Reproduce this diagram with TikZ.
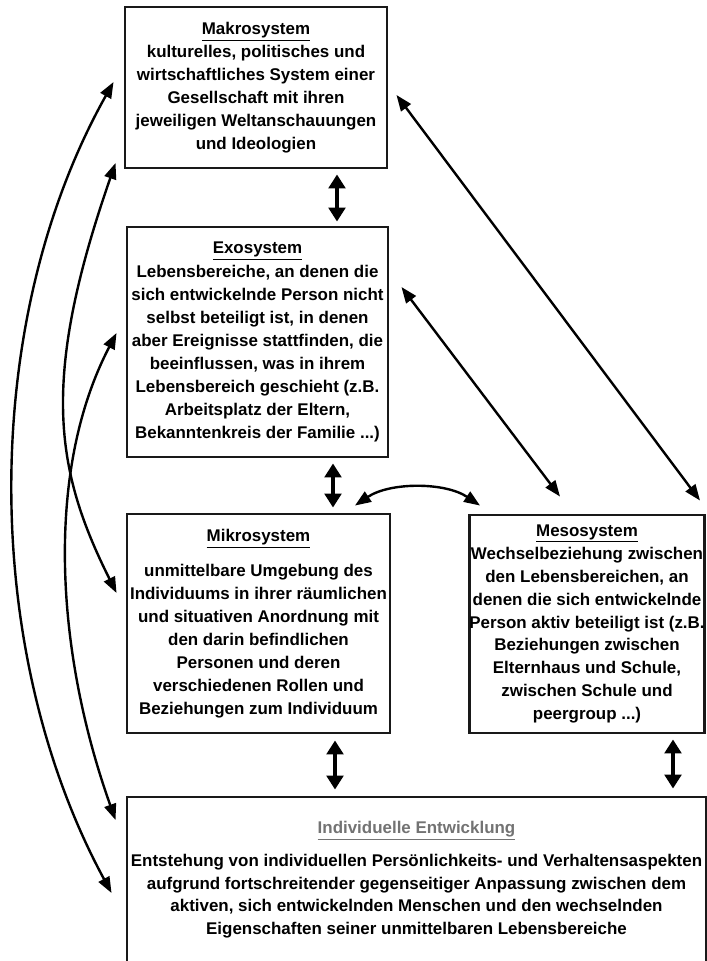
\documentclass[tikz,border=0pt]{standalone}
\usepackage{fontspec}
\setmainfont{Liberation Sans}
\usetikzlibrary{arrows.meta,calc}
\tikzset{
  sysbox/.style={draw=black!90, line width=2.2pt, fill=white, inner sep=0pt, align=center,
    font=\bfseries\fontsize{12.7}{17.2}\selectfont},
  linkarrow/.style={line width=1.8pt, {Triangle[length=12pt,width=9pt]}-{Triangle[length=12pt,width=9pt]}},
  bigarrow/.style={line width=3pt, {Triangle[length=10.5pt,width=12.5pt]}-{Triangle[length=10.5pt,width=12.5pt]}}
}
\begin{document}
\begin{tikzpicture}[x=0.75pt,y=-0.75pt]
\useasboundingbox (0,0) rectangle (707,961);
\clip (0,0) rectangle (707,961);
\fill[white] (0,0) rectangle (707,961);

\node[sysbox, minimum width=196.5pt, minimum height=120.75pt] (makro) at (256,87.5)
  {\underline{Makrosystem}\\
   kulturelles, politisches und\\
   wirtschaftliches System einer\\
   Gesellschaft mit ihren\\
   jeweiligen Weltanschauungen\\
   und Ideologien};

\node[sysbox, minimum width=195.75pt, minimum height=172.5pt] (exo) at (257.5,342)
  {\underline{Exosystem}\\[1pt]
   Lebensbereiche, an denen die\\
   sich entwickelnde Person nicht\\
   selbst beteiligt ist, in denen\\
   aber Ereignisse stattfinden, die\\
   beeinflussen, was in ihrem\\
   Lebensbereich geschieht (z.B.\\
   Arbeitsplatz der Eltern,\\
   Bekanntenkreis der Familie ...)};

\node[sysbox, minimum width=197.25pt, minimum height=164.25pt] (mikro) at (258.5,623.5)
  {\underline{Mikrosystem}\\[9pt]
   unmittelbare Umgebung des\\
   Individuums in ihrer räumlichen\\
   und situativen Anordnung mit\\
   den darin befindlichen\\
   Personen und deren\\
   verschiedenen Rollen und\\
   Beziehungen zum Individuum};

\node[sysbox, minimum width=175.5pt, minimum height=163.5pt] (meso) at (587,624)
  {\underline{Mesosystem}\\
   Wechselbeziehung zwischen\\
   den Lebensbereichen, an\\
   denen die sich entwickelnde\\
   Person aktiv beteiligt ist (z.B.\\
   Beziehungen zwischen\\
   Elternhaus und Schule,\\
   zwischen Schule und\\
   peergroup ...)};

\node[sysbox, minimum width=434.25pt, minimum height=124.5pt] (indiv) at (416.5,880)
  {{\color{black!55}\underline{Individuelle Entwicklung}}\\[7pt]
   Entstehung von individuellen Persönlichkeits- und Verhaltensaspekten\\
   aufgrund fortschreitender gegenseitiger Anpassung zwischen dem\\
   aktiven, sich entwickelnden Menschen und den wechselnden\\
   Eigenschaften seiner unmittelbaren Lebensbereiche};

% vertical double arrows
\draw[bigarrow] ($(makro.south)+(81,5)$) -- ($(exo.north)+(79.5,-4)$);
\draw[bigarrow] ($(exo.south)+(75.5,5)$) -- ($(mikro.north)+(74.5,-5)$);
\draw[bigarrow] ($(mikro.south)+(76.5,6)$) -- ($(indiv.north)+(-81.5,-6)$);
\draw[bigarrow] ($(meso.south)+(86,5)$) -- ($(indiv.north)+(256.5,-7)$);

% mikro - meso curve
\draw[linkarrow] ($(mikro.north)+(96.5,-7)$) .. controls (390,482) and (445,482) .. ($(meso.north)+(-107,-8)$);

% right diagonal arrows
\draw[linkarrow] ($(makro.east)+(8,7.5)$) -- ($(meso.north)+(113,-13)$);
\draw[linkarrow] ($(exo.east)+(12,-55)$) -- ($(meso.north)+(-27,-17)$);

% left curved arrows
\draw[linkarrow] ($(makro.west)+(-10,-5.5)$) .. controls (-20,320) and (-20,650) .. ($(indiv.west)+(-14,13)$);
\draw[linkarrow] ($(makro.west)+(-8,75.5)$) .. controls (40,380) and (55,470) .. ($(mikro.west)+(-9,-30.5)$);
\draw[linkarrow] ($(exo.west)+(-9,-9)$) .. controls (45,470) and (55,650) .. ($(indiv.west)+(-10,-60)$);
\end{tikzpicture}
\end{document}
